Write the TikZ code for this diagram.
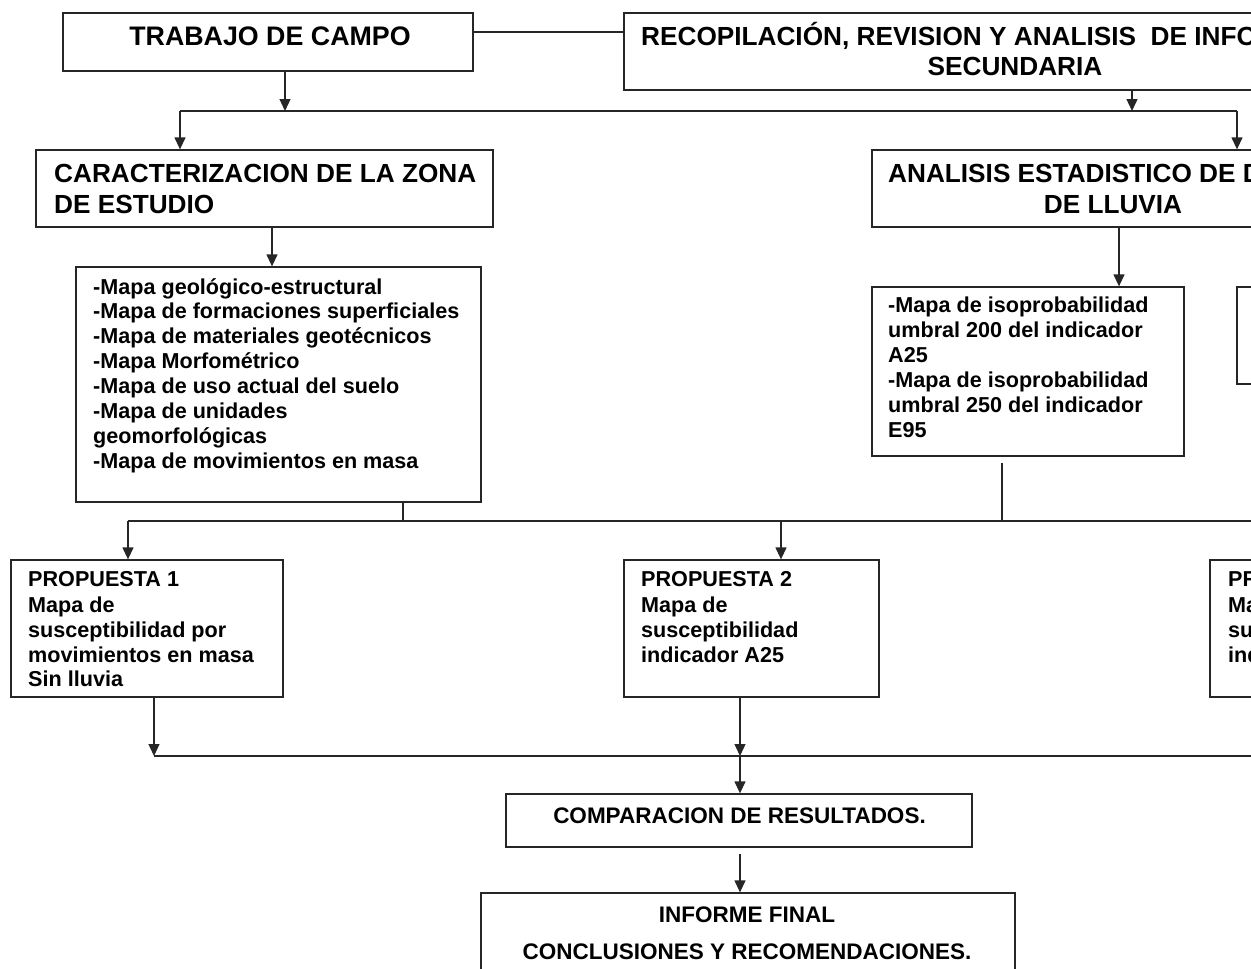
\documentclass[tikz,border=0pt]{standalone}
\usepackage{fontspec}
\setmainfont{Liberation Sans}
\usetikzlibrary{arrows.meta,calc}
\tikzset{
  box/.style={draw=black!85, line width=1.3pt, rectangle, inner sep=0pt},
  txt/.style={inner sep=0pt, anchor=base west, font=\bfseries\fontsize{21.6}{25}\selectfont},
  hd/.style={inner sep=0pt, anchor=base west, font=\bfseries\fontsize{26.2}{30}\selectfont},
  ctxt/.style={inner sep=0pt, anchor=base, font=\bfseries\fontsize{22.5}{26}\selectfont},
  ln/.style={draw=black!85, line width=1.3pt},
  arr/.style={ln, -{Triangle[width=11pt,length=12pt]}}
}
\begin{document}
\begin{tikzpicture}[x=1pt,y=-1pt]
\useasboundingbox (0,0) rectangle (1251,969);
\clip (0,0) rectangle (1251,969);
% boxes
\node[box, minimum width=410, minimum height=58] (trabajo) at (268,42) {};
\node[box, minimum width=782, minimum height=77] (recop) at (1015,51.5) {};
\node[box, minimum width=457, minimum height=77] (carac) at (264.5,188.5) {};
\node[box, minimum width=496, minimum height=77] (anal) at (1120,188.5) {};
\node[box, minimum width=405, minimum height=235] (list) at (278.5,384.5) {};
\node[box, minimum width=312, minimum height=169] (iso) at (1028,371.5) {};
\node[box, minimum width=263, minimum height=97] (rbox) at (1368.5,335.5) {};
\node[box, minimum width=272, minimum height=137] (prop1) at (147,628.5) {};
\node[box, minimum width=255, minimum height=137] (prop2) at (751.5,628.5) {};
\node[box, minimum width=260, minimum height=137] (prop3) at (1340,628.5) {};
\node[box, minimum width=466, minimum height=53] (comp) at (739,820.5) {};
\node[box, minimum width=534, minimum height=117] (inform) at (748,951.5) {};
% texts
\node[hd, anchor=base, font=\bfseries\fontsize{26.8}{30}\selectfont] (tTrab) at (270,45.5) {TRABAJO DE CAMPO};
\node[hd] (tRec1) at (641,45.5) {RECOPILACIÓN, REVISION Y ANALISIS\ \ DE INFORMACIÓN};
\node[hd, anchor=base] (tRec2) at (1015,75.5) {SECUNDARIA};
\node[hd] (tCar1) at (54,182.5) {CARACTERIZACION DE LA ZONA};
\node[hd] (tCar2) at (54,213.5) {DE ESTUDIO};
\node[hd] (tAna1) at (888,182.5) {ANALISIS ESTADISTICO DE DATOS};
\node[hd, anchor=base] (tAna2) at (1113,213.5) {DE LLUVIA};
\node[txt] (l1) at (93,294) {-Mapa geológico-estructural};
\node[txt] (l2) at (93,318) {-Mapa de formaciones superficiales};
\node[txt] (l3) at (93,343) {-Mapa de materiales geotécnicos};
\node[txt] (l4) at (93,368) {-Mapa Morfométrico};
\node[txt] (l5) at (93,393) {-Mapa de uso actual del suelo};
\node[txt] (l6) at (93,418) {-Mapa de unidades};
\node[txt] (l7) at (93,443) {geomorfológicas};
\node[txt] (l8) at (93,468) {-Mapa de movimientos en masa};
\node[txt] (i1) at (888,312) {-Mapa de isoprobabilidad};
\node[txt] (i2) at (888,337) {umbral 200 del indicador};
\node[txt] (i3) at (888,362) {A25};
\node[txt] (i4) at (888,387) {-Mapa de isoprobabilidad};
\node[txt] (i5) at (888,412) {umbral 250 del indicador};
\node[txt] (i6) at (888,437) {E95};
\node[txt] (p11) at (28,586) {PROPUESTA 1};
\node[txt] (p12) at (28,612) {Mapa de};
\node[txt] (p13) at (28,637) {susceptibilidad por};
\node[txt] (p14) at (28,662) {movimientos en masa};
\node[txt] (p15) at (28,686) {Sin lluvia};
\node[txt] (p21) at (641,586) {PROPUESTA 2};
\node[txt] (p22) at (641,612) {Mapa de};
\node[txt] (p23) at (641,637) {susceptibilidad};
\node[txt] (p24) at (641,662) {indicador A25};
\node[txt] (p31) at (1228,586) {PROPUESTA 3};
\node[txt] (p32) at (1228,612) {Mapa de};
\node[txt] (p33) at (1228,637) {susceptibilidad};
\node[txt] (p34) at (1228,662) {indicador E95};
\node[ctxt] (tComp) at (739.5,823) {COMPARACION DE RESULTADOS.};
\node[ctxt] (tInf1) at (747,922) {INFORME FINAL};
\node[ctxt] (tInf2) at (747,959) {CONCLUSIONES Y RECOMENDACIONES.};
% helper coordinates
\coordinate (ytop) at (0,32);
\coordinate (t1) at (285,111);
\coordinate (r1) at (1132,111);
\coordinate (b1L) at (180,111);
\coordinate (b1R) at (1237,111);
\coordinate (xc) at (272,0);
\coordinate (xa) at (1119,0);
\coordinate (b2a) at (403,521);
\coordinate (b2b) at (1002,521);
\coordinate (b2L) at (128,521);
\coordinate (b2M) at (781,521);
\coordinate (b2R) at (1300,521);
\coordinate (b3a) at (154,756);
\coordinate (b3b) at (740,756);
\coordinate (b3R) at (1300,756);
% connectors
\draw[ln] (trabajo.east |- ytop) -- (recop.west |- ytop);
\draw[arr] (trabajo.south -| t1) -- (t1);
\draw[arr] (recop.south -| r1) -- (r1);
\draw[ln] (b1L) -- (b1R);
\draw[arr] (b1L) -- (carac.north -| b1L);
\draw[arr] (b1R) -- (anal.north -| b1R);
\draw[arr] (carac.south -| xc) -- (list.north -| xc);
\draw[arr] (anal.south -| xa) -- (iso.north -| xa);
\draw[ln] (list.south -| b2a) -- (b2a);
\draw[ln] ([yshift=-6pt]iso.south -| b2b) -- (b2b);
\draw[ln] (b2L) -- (b2R);
\draw[arr] (b2L) -- (prop1.north -| b2L);
\draw[arr] (b2M) -- (prop2.north -| b2M);
\draw[arr] (prop1.south -| b3a) -- (b3a);
\draw[arr] (prop2.south -| b3b) -- (b3b);
\draw[ln] (b3a) -- (b3R);
\draw[arr] (b3b) -- (comp.north -| b3b);
\draw[arr] ([yshift=-6pt]comp.south -| b3b) -- (inform.north -| b3b);
\end{tikzpicture}
\end{document}
